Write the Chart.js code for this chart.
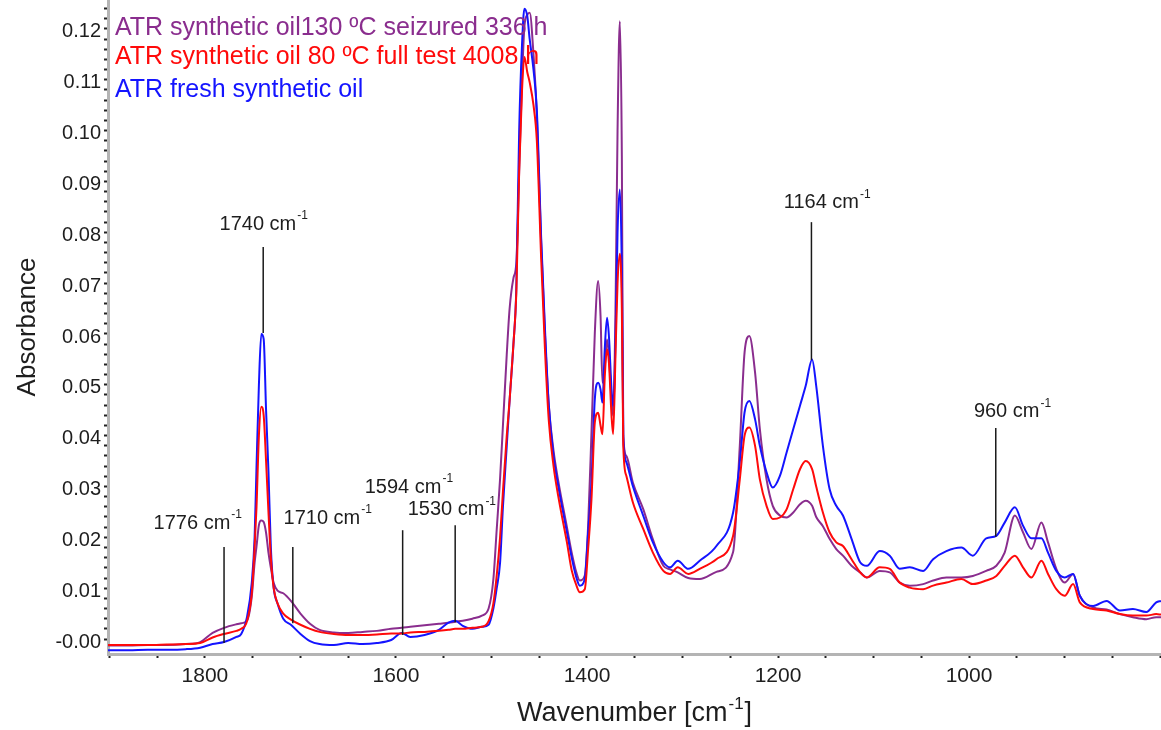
<!DOCTYPE html>
<html><head><meta charset="utf-8">
<script src="https://cdn.jsdelivr.net/npm/chart.js@4.4.0/dist/chart.umd.min.js"></script>
<style>html,body{margin:0;padding:0;background:#fff;}canvas{display:block}</style>
</head><body>
<canvas id="c" width="1161" height="730"></canvas>
<script>
// ---- data ----
const wavenumbers = [1902,1880,1860,1840,1820,1805,1792,1780,1767,1762,1756,1751,1748,1746,1743.5,1741,1738.5,1736,1733.5,1731,1728,1724,1718,1710,1700,1690,1680,1665,1650,1635,1620,1605,1594,1585,1570,1555,1545,1538,1530,1520,1510,1503,1498,1494.5,1491,1488,1484,1481,1477,1474,1471,1468,1465.5,1462.5,1460,1456,1452.5,1448,1444,1440,1435,1430,1421,1416,1411,1407.5,1402.3,1398.8,1395.3,1391.8,1388.3,1385.8,1383.8,1381.4,1379,1377,1374.3,1372.6,1370,1368,1365.6,1363.5,1362,1358.8,1352,1341,1331,1320,1313,1305,1294,1282,1264.5,1247,1240,1235,1230,1224,1219,1212,1205.5,1198,1191,1184,1177,1171,1164.3,1160,1153,1146,1139,1132,1123,1114,1107,1093.5,1083,1072.6,1062,1048,1037.6,1023.7,1008,996,982,971.4,962.7,952,943.5,934.7,924.2,917.3,908.6,899.8,891,884,870,856,842,828.4,814.4,804,799];
const seizured130C = [-0.0013,-0.0013,-0.0012,-0.0012,-0.0010,-0.0006,0.0012,0.0022,0.0029,0.0031,0.0036,0.0083,0.0150,0.0182,0.0224,0.0233,0.0230,0.0209,0.0170,0.0140,0.0110,0.0095,0.0090,0.0075,0.0050,0.0030,0.0018,0.0013,0.0012,0.0014,0.0016,0.0020,0.0022,0.0024,0.0027,0.0030,0.0032,0.0034,0.0036,0.0040,0.0046,0.0060,0.0118,0.0216,0.0315,0.0420,0.0560,0.0650,0.0710,0.0740,0.0920,0.1100,0.1205,0.1228,0.1232,0.1150,0.1030,0.0780,0.0600,0.0460,0.0370,0.0310,0.0220,0.0170,0.0130,0.0115,0.0125,0.0223,0.0406,0.0602,0.0704,0.0635,0.0504,0.0535,0.0589,0.0556,0.0472,0.0439,0.0670,0.1000,0.1215,0.0950,0.0400,0.0360,0.0308,0.0255,0.0196,0.0144,0.0137,0.0131,0.0120,0.0118,0.0132,0.0171,0.0380,0.0564,0.0596,0.0524,0.0413,0.0314,0.0262,0.0243,0.0239,0.0249,0.0265,0.0272,0.0262,0.0240,0.0222,0.0197,0.0177,0.0164,0.0144,0.0131,0.0121,0.0134,0.0131,0.0111,0.0105,0.0108,0.0115,0.0121,0.0121,0.0124,0.0134,0.0144,0.0170,0.0243,0.0210,0.0177,0.0229,0.0190,0.0138,0.0111,0.0128,0.0085,0.0062,0.0058,0.0049,0.0043,0.0039,0.0043,0.0043];
const fullTest80C = [-0.0012,-0.0012,-0.0012,-0.0011,-0.0010,-0.0008,0.0003,0.0010,0.0016,0.0020,0.0035,0.0090,0.0180,0.0260,0.0400,0.0457,0.0440,0.0350,0.0250,0.0160,0.0100,0.0070,0.0050,0.0038,0.0028,0.0020,0.0014,0.0010,0.0008,0.0008,0.0009,0.0011,0.0011,0.0013,0.0014,0.0016,0.0018,0.0020,0.0020,0.0022,0.0024,0.0035,0.0070,0.0125,0.0200,0.0290,0.0400,0.0470,0.0580,0.0680,0.0920,0.1080,0.1145,0.1115,0.1095,0.1050,0.0980,0.0750,0.0570,0.0430,0.0340,0.0280,0.0190,0.0135,0.0105,0.0092,0.0098,0.0177,0.0275,0.0426,0.0445,0.0420,0.0403,0.0515,0.0570,0.0543,0.0439,0.0403,0.0570,0.0700,0.0758,0.0650,0.0380,0.0321,0.0269,0.0216,0.0170,0.0134,0.0128,0.0141,0.0128,0.0138,0.0157,0.0203,0.0314,0.0400,0.0416,0.0380,0.0314,0.0262,0.0236,0.0239,0.0255,0.0295,0.0334,0.0350,0.0334,0.0300,0.0249,0.0210,0.0190,0.0183,0.0157,0.0131,0.0121,0.0141,0.0138,0.0111,0.0101,0.0098,0.0105,0.0111,0.0118,0.0108,0.0115,0.0124,0.0144,0.0164,0.0141,0.0121,0.0154,0.0128,0.0098,0.0085,0.0108,0.0072,0.0059,0.0056,0.0049,0.0046,0.0046,0.0049,0.0048];
const freshOil = [-0.0022,-0.0022,-0.0021,-0.0021,-0.0020,-0.0017,-0.0010,-0.0006,0.0004,0.0010,0.0043,0.0110,0.0200,0.0339,0.0500,0.0600,0.0590,0.0450,0.0330,0.0180,0.0100,0.0070,0.0040,0.0028,0.0010,-0.0004,-0.0010,-0.0012,-0.0008,-0.0010,-0.0008,-0.0002,0.0012,0.0004,0.0008,0.0018,0.0032,0.0036,0.0026,0.0020,0.0024,0.0028,0.0060,0.0100,0.0150,0.0260,0.0380,0.0470,0.0580,0.0690,0.1000,0.1170,0.1240,0.1225,0.1180,0.1120,0.1040,0.0790,0.0610,0.0460,0.0360,0.0300,0.0210,0.0160,0.0120,0.0105,0.0118,0.0210,0.0308,0.0472,0.0504,0.0491,0.0465,0.0570,0.0632,0.0595,0.0491,0.0459,0.0600,0.0800,0.0884,0.0720,0.0400,0.0348,0.0301,0.0242,0.0190,0.0151,0.0141,0.0154,0.0138,0.0154,0.0183,0.0249,0.0348,0.0446,0.0468,0.0432,0.0380,0.0328,0.0298,0.0321,0.0367,0.0413,0.0459,0.0498,0.0550,0.0498,0.0380,0.0295,0.0262,0.0243,0.0197,0.0151,0.0144,0.0173,0.0164,0.0138,0.0141,0.0134,0.0157,0.0173,0.0180,0.0164,0.0198,0.0203,0.0229,0.0259,0.0223,0.0198,0.0198,0.0170,0.0134,0.0121,0.0128,0.0085,0.0065,0.0075,0.0056,0.0059,0.0053,0.0072,0.0075];

const seriesNames = ['ATR synthetic oil130 \u00BAC seizured 336 h', 'ATR synthetic oil 80 \u00BAC full test 4008 h', 'ATR fresh synthetic oil'];
const seriesColors = ['#8A2D8E', '#FF0A0A', '#1414FF'];

const xTickValues = [1800, 1600, 1400, 1200, 1000];
const xTickLabels = ['1800', '1600', '1400', '1200', '1000'];
const yTickValues = [0, 0.01, 0.02, 0.03, 0.04, 0.05, 0.06, 0.07, 0.08, 0.09, 0.10, 0.11, 0.12];
const yTickLabels = ['-0.00', '0.01', '0.02', '0.03', '0.04', '0.05', '0.06', '0.07', '0.08', '0.09', '0.10', '0.11', '0.12'];

// peak annotations (wavenumber / absorbance units)
const peakLabels   = ['1776', '1740', '1710', '1594', '1530', '1164', '960'];
const peakLineX    = [1780, 1739, 1708, 1593, 1538, 1165, 972];
const peakLineTop  = [0.0181, 0.0771, 0.0181, 0.0214, 0.0224, 0.0820, 0.0415];
const peakLineBot  = [-0.0008, 0.0602, 0.0031, 0.0008, 0.0033, 0.0549, 0.0201];
const peakLabelX   = [1808, 1739, 1672, 1587, 1542, 1149, 955];
const peakLabelY   = [0.0228, 0.0816, 0.0238, 0.0299, 0.0254, 0.0858, 0.0447];

const FONT = '"Liberation Sans", Arial, sans-serif';

function toPoints(ys) { return wavenumbers.map((w, i) => ({ x: w, y: ys[i] })); }

function drawSup(ctx, x, y, base, sup, size, align) {
  ctx.font = size + 'px ' + FONT;
  const wb = ctx.measureText(base).width;
  const supSize = Math.round(size * 0.62);
  ctx.font = supSize + 'px ' + FONT;
  const ws = ctx.measureText(sup).width;
  let x0 = x;
  const total = wb + ws;
  if (align === 'center') x0 = x - total / 2;
  ctx.textAlign = 'left';
  ctx.font = size + 'px ' + FONT;
  ctx.fillText(base, x0, y);
  ctx.font = supSize + 'px ' + FONT;
  ctx.fillText(sup, x0 + wb + 1, y - size * 0.42);
  return total;
}

const overlay = {
  id: 'overlay',
  afterDatasetsDraw(chart) {
    const ctx = chart.ctx, xs = chart.scales.x, ys = chart.scales.y, ca = chart.chartArea;
    ctx.save();
    // peak marker lines and labels
    ctx.strokeStyle = '#1a1a1a';
    ctx.lineWidth = 1.5;
    ctx.fillStyle = '#1e1e1e';
    ctx.textBaseline = 'middle';
    for (let i = 0; i < peakLabels.length; i++) {
      const px = xs.getPixelForValue(peakLineX[i]);
      ctx.beginPath();
      ctx.moveTo(px, ys.getPixelForValue(peakLineTop[i]));
      ctx.lineTo(px, ys.getPixelForValue(peakLineBot[i]));
      ctx.stroke();
      drawSup(ctx, xs.getPixelForValue(peakLabelX[i]), ys.getPixelForValue(peakLabelY[i]), peakLabels[i] + ' cm', '-1', 20, 'center');
    }
    // legend text inside the plot
    ctx.textBaseline = 'alphabetic';
    ctx.textAlign = 'left';
    ctx.font = '25px ' + FONT;
    const legendY = [35, 64, 97];
    for (let i = 0; i < seriesNames.length; i++) {
      ctx.fillStyle = seriesColors[i];
      ctx.fillText(seriesNames[i], ca.left + 7, legendY[i]);
    }
    // axis titles
    ctx.fillStyle = '#1e1e1e';
    ctx.textBaseline = 'middle';
    ctx.font = '27px ' + FONT;
    const base = 'Wavenumber [cm';
    const wb = ctx.measureText(base).width;
    ctx.font = '17px ' + FONT;
    const ws = ctx.measureText('-1').width;
    ctx.font = '27px ' + FONT;
    const wc = ctx.measureText(']').width;
    const cx = (ca.left + ca.right) / 2;
    let x0 = cx - (wb + ws + wc + 2) / 2;
    const ty = 714;
    ctx.fillText(base, x0, ty);
    ctx.font = '17px ' + FONT;
    ctx.fillText('-1', x0 + wb + 1, ty - 10);
    ctx.font = '27px ' + FONT;
    ctx.fillText(']', x0 + wb + ws + 2, ty);

    ctx.translate(28, (ca.top + ca.bottom) / 2);
    ctx.rotate(-Math.PI / 2);
    ctx.textAlign = 'center';
    ctx.font = '26px ' + FONT;
    ctx.fillText('Absorbance', 0, 0);
    ctx.restore();
  }
};

const xMinor = [];
for (let v = 1900; v >= 800; v -= 50) xMinor.push(v);
const yMinor = [];
for (let k = 0; k <= 62; k++) yMinor.push(Math.round(k * 2) / 1000);

new Chart(document.getElementById('c'), {
  type: 'line',
  data: {
    datasets: [
      { label: seriesNames[1], data: toPoints(fullTest80C), borderColor: seriesColors[1] },
      { label: seriesNames[2], data: toPoints(freshOil), borderColor: seriesColors[2] },
      { label: seriesNames[0], data: toPoints(seizured130C), borderColor: seriesColors[0] }
    ].map(d => Object.assign(d, { borderWidth: 2, pointRadius: 0, fill: false, cubicInterpolationMode: 'monotone' }))
  },
  options: {
    responsive: false,
    animation: false,
    devicePixelRatio: 1,
    layout: { autoPadding: false, padding: 0 },
    plugins: { legend: { display: false }, tooltip: { enabled: false } },
    scales: {
      x: {
        type: 'linear', reverse: true, min: 799, max: 1901.5,
        afterFit: s => { s.height = 76; s.paddingLeft = 0; s.paddingRight = 0; s.paddingTop = 0; s.paddingBottom = 0; },
        afterBuildTicks: s => { s.ticks = xMinor.map(v => ({ value: v })); },
        ticks: {
          autoSkip: false, maxRotation: 0, padding: 6,
          font: { family: FONT, size: 21 }, color: '#1e1e1e',
          callback: v => { const i = xTickValues.indexOf(v); return i >= 0 ? xTickLabels[i] : ''; }
        },
        grid: { drawOnChartArea: false, drawTicks: true, tickLength: 4, tickColor: '#222', tickWidth: 2 },
        border: { color: '#b4b4b4', width: 3 }
      },
      y: {
        type: 'linear', min: -0.00295, max: 0.1257,
        afterFit: s => { s.width = 108; s.paddingLeft = 0; s.paddingRight = 0; s.paddingTop = 0; s.paddingBottom = 0; },
        afterBuildTicks: s => { s.ticks = yMinor.filter(v => v <= 0.124).map(v => ({ value: v })); },
        ticks: {
          autoSkip: false, padding: 3, labelOffset: 3,
          font: { family: FONT, size: 20 }, color: '#1e1e1e',
          callback: v => { const i = yTickValues.findIndex(t => Math.abs(t - v) < 1e-6); return i >= 0 ? yTickLabels[i] : ''; }
        },
        grid: { drawOnChartArea: false, drawTicks: true, tickLength: 4, tickColor: '#222', tickWidth: 2 },
        border: { color: '#b4b4b4', width: 3 }
      }
    }
  },
  plugins: [overlay]
});
</script>
</body></html>
